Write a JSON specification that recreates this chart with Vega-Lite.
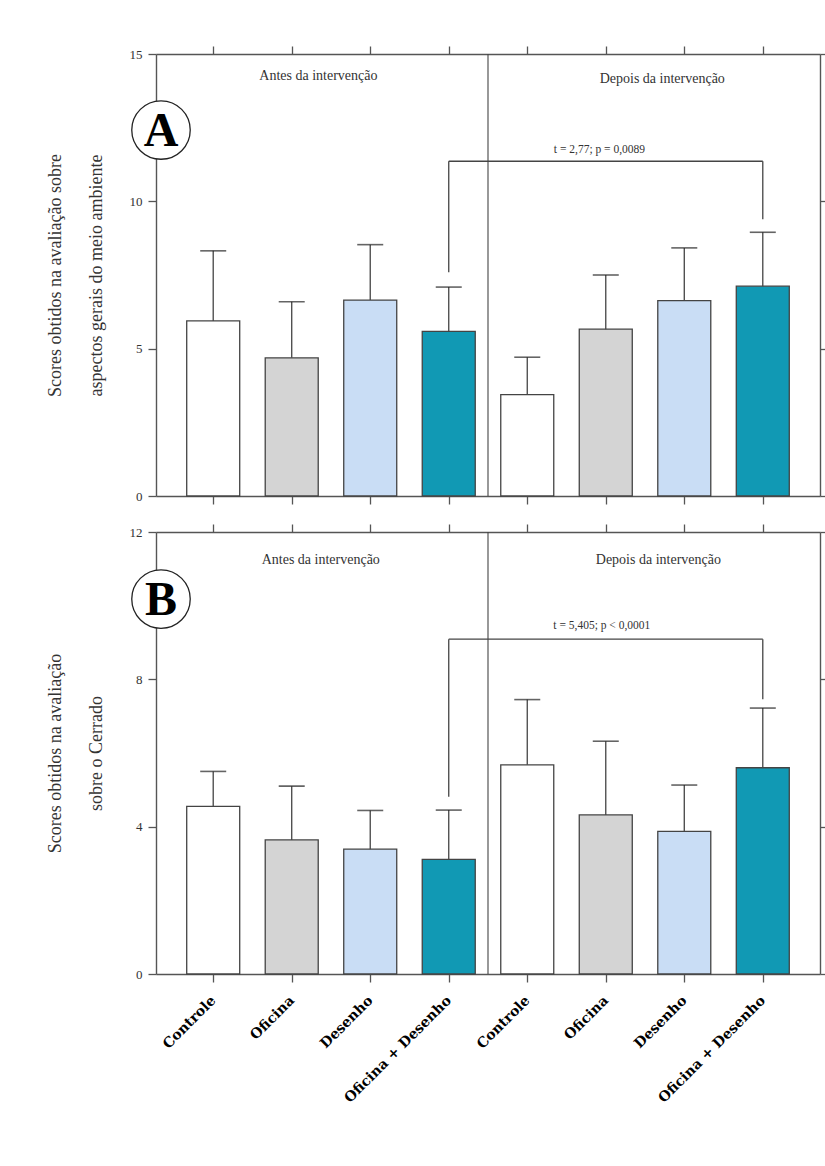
{
  "$schema": "https://vega.github.io/schema/vega-lite/v6.json",
  "padding": {"left": 46, "top": 45, "right": 0, "bottom": 0},
  "background": "white",
  "spacing": 18,
  "config": {
    "view": {"stroke": null},
    "axis": {"domainColor": "#555", "domainWidth": 1.4, "tickColor": "#555", "tickWidth": 1.3, "tickSize": 8, "grid": false, "labelFont": "Liberation Serif", "labelFontSize": 13, "labelColor": "#333", "labelPadding": 6, "titleFont": "Liberation Serif", "titleFontSize": 18, "titleFontWeight": "normal", "titleColor": "#333", "titleLineHeight": 41, "titlePadding": 24},
    "text": {"font": "Liberation Serif", "color": "#333"}
  },
  "datasets": {
    "barsA": [
      {"idx": 1, "phase": "Antes", "group": "Controle", "mean": 5.94, "upper": 8.32},
      {"idx": 2, "phase": "Antes", "group": "Oficina", "mean": 4.69, "upper": 6.59},
      {"idx": 3, "phase": "Antes", "group": "Desenho", "mean": 6.65, "upper": 8.53},
      {"idx": 4, "phase": "Antes", "group": "Oficina + Desenho", "mean": 5.59, "upper": 7.09},
      {"idx": 5, "phase": "Depois", "group": "Controle", "mean": 3.44, "upper": 4.71},
      {"idx": 6, "phase": "Depois", "group": "Oficina", "mean": 5.66, "upper": 7.5},
      {"idx": 7, "phase": "Depois", "group": "Desenho", "mean": 6.63, "upper": 8.42},
      {"idx": 8, "phase": "Depois", "group": "Oficina + Desenho", "mean": 7.12, "upper": 8.95}
    ],
    "barsB": [
      {"idx": 1, "phase": "Antes", "group": "Controle", "mean": 4.55, "upper": 5.5},
      {"idx": 2, "phase": "Antes", "group": "Oficina", "mean": 3.64, "upper": 5.1},
      {"idx": 3, "phase": "Antes", "group": "Desenho", "mean": 3.39, "upper": 4.44},
      {"idx": 4, "phase": "Antes", "group": "Oficina + Desenho", "mean": 3.11, "upper": 4.45},
      {"idx": 5, "phase": "Depois", "group": "Controle", "mean": 5.68, "upper": 7.45},
      {"idx": 6, "phase": "Depois", "group": "Oficina", "mean": 4.32, "upper": 6.32},
      {"idx": 7, "phase": "Depois", "group": "Desenho", "mean": 3.87, "upper": 5.13},
      {"idx": 8, "phase": "Depois", "group": "Oficina + Desenho", "mean": 5.6, "upper": 7.22}
    ],
    "bracketA": [
      {"x": 4, "x2": 4, "y": 7.59, "y2": 11.36},
      {"x": 4, "x2": 8, "y": 11.36, "y2": 11.36},
      {"x": 8, "x2": 8, "y": 9.39, "y2": 11.36}
    ],
    "bracketB": [
      {"x": 4, "x2": 4, "y": 4.81, "y2": 9.09},
      {"x": 4, "x2": 8, "y": 9.09, "y2": 9.09},
      {"x": 8, "x2": 8, "y": 7.46, "y2": 9.09}
    ],
    "phaseA": [
      {"x": 2.34, "y": 14.25, "text": "Antes da intervenção"},
      {"x": 6.72, "y": 14.15, "text": "Depois da intervenção"}
    ],
    "phaseB": [
      {"x": 2.37, "y": 11.24, "text": "Antes da intervenção"},
      {"x": 6.67, "y": 11.24, "text": "Depois da intervenção"}
    ],
    "statA": [{"x": 5.92, "y": 11.74, "text": "t = 2,77; p = 0,0089"}],
    "statB": [{"x": 5.95, "y": 9.44, "text": "t = 5,405; p < 0,0001"}],
    "letterA": [{"x": 0.335, "y": 12.42, "letter": "A"}],
    "letterB": [{"x": 0.335, "y": 10.18, "letter": "B"}]
  },
  "vconcat": [
    {
      "width": 664,
      "height": 442,
      "resolve": {"axis": {"x": "independent", "y": "independent"}},
      "layer": [
        {
          "data": {"name": "barsA"},
          "mark": {"type": "bar", "orient": "vertical", "width": 53, "stroke": "#444", "strokeWidth": 1.3},
          "encoding": {
            "x": {"field": "idx", "type": "quantitative", "scale": {"domain": [0.335, 8.665], "nice": false, "zero": false}, "axis": {"orient": "bottom", "values": [1, 2, 3, 4, 5, 6, 7, 8], "labels": false, "title": null}},
            "y": {"field": "mean", "type": "quantitative", "scale": {"domain": [0, 15], "nice": false}, "axis": {"orient": "left", "values": [0, 5, 10, 15], "title": ["Scores obtidos na avaliação sobre", "aspectos gerais do meio ambiente"]}},
            "color": {"field": "group", "type": "nominal", "scale": {"domain": ["Controle", "Oficina", "Desenho", "Oficina + Desenho"], "range": ["#ffffff", "#d4d4d4", "#c9ddf5", "#1199b4"]}, "legend": null}
          }
        },
        {
          "data": {"name": "barsA"},
          "mark": {"type": "rule", "color": "#444", "strokeWidth": 1.3},
          "encoding": {
            "x": {"field": "idx", "type": "quantitative", "axis": {"orient": "top", "values": [1, 2, 3, 4, 5, 6, 7, 8], "labels": false, "title": null}},
            "y": {"field": "mean", "type": "quantitative", "axis": {"orient": "right", "values": [0, 5, 10, 15], "labels": false, "title": null}},
            "y2": {"field": "upper"}
          }
        },
        {
          "data": {"name": "barsA"},
          "mark": {"type": "tick", "orient": "horizontal", "size": 26, "thickness": 1.6, "color": "#222"},
          "encoding": {
            "x": {"field": "idx", "type": "quantitative", "axis": null},
            "y": {"field": "upper", "type": "quantitative", "axis": null}
          }
        },
        {
          "data": {"values": [{"x": 4.5}]},
          "mark": {"type": "rule", "color": "#444", "strokeWidth": 1.1},
          "encoding": {"x": {"field": "x", "type": "quantitative", "axis": null}}
        },
        {
          "data": {"name": "bracketA"},
          "mark": {"type": "rule", "color": "#444", "strokeWidth": 1.3},
          "encoding": {
            "x": {"field": "x", "type": "quantitative", "axis": null},
            "x2": {"field": "x2"},
            "y": {"field": "y", "type": "quantitative", "axis": null},
            "y2": {"field": "y2"}
          }
        },
        {
          "data": {"name": "phaseA"},
          "mark": {"type": "text", "fontSize": 14, "align": "center", "baseline": "middle"},
          "encoding": {
            "x": {"field": "x", "type": "quantitative", "axis": null},
            "y": {"field": "y", "type": "quantitative", "axis": null},
            "text": {"field": "text"}
          }
        },
        {
          "data": {"name": "statA"},
          "mark": {"type": "text", "fontSize": 11.5, "align": "center", "baseline": "middle"},
          "encoding": {
            "x": {"field": "x", "type": "quantitative", "axis": null},
            "y": {"field": "y", "type": "quantitative", "axis": null},
            "text": {"field": "text"}
          }
        },
        {
          "data": {"name": "letterA"},
          "mark": {"type": "point", "shape": "circle", "size": 3420, "filled": true, "fill": "#ffffff", "stroke": "#222", "strokeWidth": 1.3, "opacity": 1},
          "encoding": {
            "x": {"field": "x", "type": "quantitative", "axis": null},
            "y": {"field": "y", "type": "quantitative", "axis": null}
          }
        },
        {
          "data": {"name": "letterA"},
          "mark": {"type": "text", "fontSize": 48, "fontWeight": "bold", "color": "#000", "align": "center", "baseline": "middle", "dy": 2},
          "encoding": {
            "x": {"field": "x", "type": "quantitative", "axis": null},
            "y": {"field": "y", "type": "quantitative", "axis": null},
            "text": {"field": "letter"}
          }
        }
      ]
    },
    {
      "width": 664,
      "height": 442,
      "resolve": {"axis": {"x": "independent", "y": "independent"}},
      "layer": [
        {
          "data": {"name": "barsB"},
          "mark": {"type": "bar", "orient": "vertical", "width": 53, "stroke": "#444", "strokeWidth": 1.3},
          "encoding": {
            "x": {"field": "idx", "type": "quantitative", "scale": {"domain": [0.335, 8.665], "nice": false, "zero": false}, "axis": {"orient": "bottom", "values": [1, 2, 3, 4, 5, 6, 7, 8], "title": null, "labelAngle": -45, "labelAlign": "right", "labelBaseline": "middle", "labelPadding": 16, "labelFont": "DejaVu Serif", "labelFontWeight": "bold", "labelFontSize": 14, "labelColor": "#000", "labelOverlap": false, "labelExpr": "['Controle','Oficina','Desenho','Oficina + Desenho','Controle','Oficina','Desenho','Oficina + Desenho'][datum.value - 1]"}},
            "y": {"field": "mean", "type": "quantitative", "scale": {"domain": [0, 12], "nice": false}, "axis": {"orient": "left", "values": [0, 4, 8, 12], "title": ["Scores obtidos na avaliação", "sobre o Cerrado"]}},
            "color": {"field": "group", "type": "nominal", "scale": {"domain": ["Controle", "Oficina", "Desenho", "Oficina + Desenho"], "range": ["#ffffff", "#d4d4d4", "#c9ddf5", "#1199b4"]}, "legend": null}
          }
        },
        {
          "data": {"name": "barsB"},
          "mark": {"type": "rule", "color": "#444", "strokeWidth": 1.3},
          "encoding": {
            "x": {"field": "idx", "type": "quantitative", "axis": {"orient": "top", "values": [1, 2, 3, 4, 5, 6, 7, 8], "labels": false, "title": null}},
            "y": {"field": "mean", "type": "quantitative", "axis": {"orient": "right", "values": [0, 4, 8, 12], "labels": false, "title": null}},
            "y2": {"field": "upper"}
          }
        },
        {
          "data": {"name": "barsB"},
          "mark": {"type": "tick", "orient": "horizontal", "size": 26, "thickness": 1.6, "color": "#222"},
          "encoding": {
            "x": {"field": "idx", "type": "quantitative", "axis": null},
            "y": {"field": "upper", "type": "quantitative", "axis": null}
          }
        },
        {
          "data": {"values": [{"x": 4.5}]},
          "mark": {"type": "rule", "color": "#444", "strokeWidth": 1.1},
          "encoding": {"x": {"field": "x", "type": "quantitative", "axis": null}}
        },
        {
          "data": {"name": "bracketB"},
          "mark": {"type": "rule", "color": "#444", "strokeWidth": 1.3},
          "encoding": {
            "x": {"field": "x", "type": "quantitative", "axis": null},
            "x2": {"field": "x2"},
            "y": {"field": "y", "type": "quantitative", "axis": null},
            "y2": {"field": "y2"}
          }
        },
        {
          "data": {"name": "phaseB"},
          "mark": {"type": "text", "fontSize": 14, "align": "center", "baseline": "middle"},
          "encoding": {
            "x": {"field": "x", "type": "quantitative", "axis": null},
            "y": {"field": "y", "type": "quantitative", "axis": null},
            "text": {"field": "text"}
          }
        },
        {
          "data": {"name": "statB"},
          "mark": {"type": "text", "fontSize": 11.5, "align": "center", "baseline": "middle"},
          "encoding": {
            "x": {"field": "x", "type": "quantitative", "axis": null},
            "y": {"field": "y", "type": "quantitative", "axis": null},
            "text": {"field": "text"}
          }
        },
        {
          "data": {"name": "letterB"},
          "mark": {"type": "point", "shape": "circle", "size": 3420, "filled": true, "fill": "#ffffff", "stroke": "#222", "strokeWidth": 1.3, "opacity": 1},
          "encoding": {
            "x": {"field": "x", "type": "quantitative", "axis": null},
            "y": {"field": "y", "type": "quantitative", "axis": null}
          }
        },
        {
          "data": {"name": "letterB"},
          "mark": {"type": "text", "fontSize": 48, "fontWeight": "bold", "color": "#000", "align": "center", "baseline": "middle", "dy": 2},
          "encoding": {
            "x": {"field": "x", "type": "quantitative", "axis": null},
            "y": {"field": "y", "type": "quantitative", "axis": null},
            "text": {"field": "letter"}
          }
        }
      ]
    }
  ]
}
